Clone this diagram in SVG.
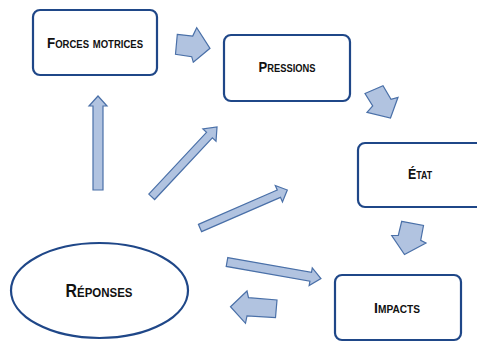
<svg xmlns="http://www.w3.org/2000/svg" width="477" height="342" viewBox="0 0 477 342">
<style>
.box{fill:#fff;stroke:#1F4788;stroke-width:2.2}
.arr{fill:#B1C3E0;stroke:#4A70A8;stroke-width:1.2;stroke-linejoin:miter}
.lbl{font-family:"Liberation Sans",Arial,sans-serif;font-weight:bold;font-variant:small-caps;fill:#111;text-anchor:middle}
</style>
<rect width="477" height="342" fill="#fff"/>
<g id="connectors">
<polygon class="arr" points="177.3,34.3 192.7,36 196.7,27.7 210,48.3 193.3,62.3 191.7,56.7 175.5,54.3"/>
<polygon class="arr" points="365,93.5 383,85.8 391,99.3 398,97.3 390.5,118 367,112.3 372.7,106"/>
<polygon class="arr" points="401.7,221.3 423.5,225.5 420.7,240.3 426,243 404.5,254.5 391.7,235.5 398.3,235.3"/>
<polygon class="arr" points="230.5,306.7 247,291 248.5,297.7 277,300 275.5,317.5 247,316 245.5,323.3"/>
<polygon class="arr" points="93,190 93,106 89,106 98,96 107,106 103,106 103,190"/>
<polygon class="arr" transform="translate(151.7,196.8) rotate(-46.9)" points="0,-4 84.5,-4 84.5,-9 95.6,0 84.5,9 84.5,4 0,4"/>
<polygon class="arr" transform="translate(200,228) rotate(-23.5)" points="0,-4 86,-4 86,-9 95.2,0 86,9 86,4 0,4"/>
<polygon class="arr" transform="translate(227,262) rotate(10)" points="0,-4.5 85,-4.5 85,-9 95.4,0 85,9 85,4.5 0,4.5"/>
</g>
<g id="forces">
<rect class="box" x="33" y="10" width="124" height="65" rx="7"/>
<text class="lbl" x="95" y="47.7" font-size="14" textLength="96" lengthAdjust="spacingAndGlyphs">Forces motrices</text>
</g>
<g id="pressions">
<rect class="box" x="224" y="35" width="126" height="66" rx="7"/>
<text class="lbl" x="287" y="72" font-size="14" textLength="57" lengthAdjust="spacingAndGlyphs">Pressions</text>
</g>
<g id="etat">
<rect class="box" x="358" y="143" width="130" height="64" rx="7"/>
<text class="lbl" x="420" y="179" font-size="14" textLength="24" lengthAdjust="spacingAndGlyphs">État</text>
</g>
<g id="impacts">
<rect class="box" x="335" y="275" width="126" height="65" rx="7"/>
<text class="lbl" x="397" y="312.5" font-size="14" textLength="46" lengthAdjust="spacingAndGlyphs">Impacts</text>
</g>
<g id="reponses">
<ellipse class="box" cx="99.5" cy="290.5" rx="88.5" ry="47.5"/>
<text class="lbl" x="99" y="297" font-size="18" textLength="67" lengthAdjust="spacingAndGlyphs">Réponses</text>
</g>
</svg>
